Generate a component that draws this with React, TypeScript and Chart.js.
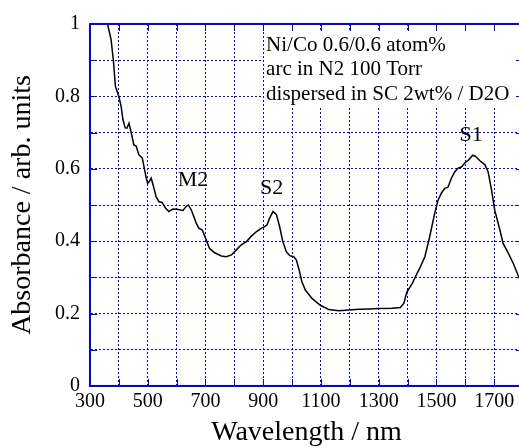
import React, { useEffect, useRef } from "react";
import { Chart, registerables } from "chart.js";

Chart.register(...registerables);

const wavelengths = [
  358, 373, 381, 388, 400, 408, 414, 422, 428, 435, 443, 452, 460, 469, 481, 487, 495, 500, 506, 512,
  520, 529, 539, 550, 562, 573, 587, 601, 622, 633, 641, 651, 668, 677, 689, 703, 714, 732, 755, 772,
  790, 807, 824, 842, 859, 876, 894, 905, 913, 922, 934, 946, 957, 968, 980, 992, 1006, 1015, 1024, 1034,
  1046, 1069, 1098, 1127, 1162, 1196, 1231, 1266, 1300, 1346, 1375, 1387, 1398, 1416, 1433, 1442, 1460, 1477, 1494, 1506,
  1518, 1529, 1540, 1552, 1564, 1575, 1587, 1598, 1610, 1625, 1633, 1650, 1668, 1679, 1691, 1702, 1720, 1731, 1749, 1766,
  1783, 1800,
];
const absorbance = [
  1.01, 0.957, 0.9, 0.828, 0.8, 0.772, 0.736, 0.713, 0.712, 0.726, 0.699, 0.666, 0.663, 0.639, 0.63, 0.606, 0.574, 0.56, 0.566, 0.574,
  0.551, 0.523, 0.509, 0.507, 0.491, 0.482, 0.489, 0.488, 0.485, 0.496, 0.5, 0.486, 0.45, 0.436, 0.431, 0.403, 0.38, 0.368, 0.359, 0.357,
  0.362, 0.376, 0.39, 0.399, 0.414, 0.426, 0.436, 0.44, 0.445, 0.463, 0.482, 0.473, 0.44, 0.399, 0.371, 0.36, 0.357, 0.348, 0.322, 0.288,
  0.265, 0.242, 0.223, 0.211, 0.208, 0.21, 0.212, 0.213, 0.214, 0.215, 0.217, 0.228, 0.26, 0.283, 0.311, 0.325, 0.357, 0.413, 0.477, 0.514,
  0.534, 0.546, 0.549, 0.574, 0.592, 0.602, 0.605, 0.616, 0.623, 0.637, 0.636, 0.623, 0.611, 0.592, 0.542, 0.486, 0.431, 0.394, 0.367, 0.339,
  0.306, 0.275,
];

const xTickLabels = [300, 500, 700, 900, 1100, 1300, 1500, 1700];
const yTickLabels = ["0", "0.2", "0.4", "0.6", "0.8", "1"];

const peakNames = ["M2", "S2", "S1"];
const peakNameX = [657, 929, 1620];
const peakNameY = [0.569, 0.546, 0.693];

const noteLines = ["Ni/Co 0.6/0.6 atom%", "arc in N2 100 Torr", "dispersed in SC 2wt% / D2O"];
const noteLineY = [0.942, 0.873, 0.804];
const noteX = 910;
const noteBox = { x0: 903, x1: 1779, y0: 0.981, y1: 0.768 };

const FONT = "'Times New Roman', 'Liberation Serif', 'DejaVu Serif', serif";
const BLUE = "rgb(0,0,255)";

const annotationPlugin = {
  id: "annotations",
  beforeDatasetsDraw(chart: any) {
    const { ctx } = chart;
    const xs = chart.scales.x;
    const ys = chart.scales.y;
    ctx.save();
    ctx.fillStyle = "#ffffff";
    const bx0 = xs.getPixelForValue(noteBox.x0);
    const bx1 = xs.getPixelForValue(noteBox.x1);
    const by0 = ys.getPixelForValue(noteBox.y0);
    const by1 = ys.getPixelForValue(noteBox.y1);
    ctx.fillRect(bx0, by0, bx1 - bx0, by1 - by0);
    ctx.fillStyle = "#000";
    ctx.font = `21px ${FONT}`;
    ctx.textAlign = "left";
    ctx.textBaseline = "middle";
    noteLines.forEach((t, i) => {
      ctx.fillText(t, xs.getPixelForValue(noteX), ys.getPixelForValue(noteLineY[i]));
    });
    ctx.font = `22px ${FONT}`;
    ctx.textAlign = "center";
    peakNames.forEach((t, i) => {
      ctx.fillText(t, xs.getPixelForValue(peakNameX[i]), ys.getPixelForValue(peakNameY[i]));
    });
    ctx.restore();
  },
  afterDraw(chart: any) {
    const { ctx, chartArea } = chart;
    const xs = chart.scales.x;
    const ys = chart.scales.y;
    const { left, right, top, bottom } = chartArea;
    ctx.save();
    ctx.strokeStyle = BLUE;
    ctx.lineWidth = 1;
    ctx.beginPath();
    const tl = 7;
    for (let v = 300; v <= 1800; v += 100) {
      const px = Math.round(xs.getPixelForValue(v)) + 0.5;
      ctx.moveTo(px, top);
      ctx.lineTo(px, top + tl);
      ctx.moveTo(px, bottom);
      ctx.lineTo(px, bottom - tl);
    }
    for (let i = 0; i <= 10; i++) {
      const py = Math.round(ys.getPixelForValue(i / 10)) + 0.5;
      ctx.moveTo(left, py);
      ctx.lineTo(left + tl, py);
      ctx.moveTo(right, py);
      ctx.lineTo(right - tl, py);
    }
    ctx.stroke();
    ctx.lineWidth = 2;
    ctx.strokeRect(left, top, right - left, bottom - top);
    ctx.restore();
  },
};

export default function App() {
  const canvasRef = useRef<HTMLCanvasElement | null>(null);

  useEffect(() => {
    if (!canvasRef.current) return;
    const points = wavelengths.map((w, i) => ({ x: w, y: absorbance[i] }));
    const chart = new Chart(canvasRef.current, {
      type: "line",
      data: {
        datasets: [
          {
            data: points,
            borderColor: "#000",
            borderWidth: 1.5,
            pointRadius: 0,
            tension: 0,
            fill: false,
          },
        ],
      },
      options: {
        animation: false,
        responsive: false,
        events: [],
        layout: { padding: { top: 24, right: 7, left: 0, bottom: 0 } },
        plugins: { legend: { display: false }, tooltip: { enabled: false } },
        scales: {
          x: {
            type: "linear",
            min: 300,
            max: 1800,
            afterFit: (s: any) => {
              s.height = 61;
            },
            grid: { color: BLUE, lineWidth: 1, drawTicks: false },
            border: { display: true, color: BLUE, width: 2, dash: [2, 2] },
            ticks: {
              stepSize: 100,
              autoSkip: false,
              maxRotation: 0,
              padding: 4,
              color: "#000",
              font: { family: FONT, size: 20 },
              callback: (v: any) => (xTickLabels.includes(Math.round(v)) ? String(Math.round(v)) : ""),
            },
            title: {
              display: true,
              text: "Wavelength / nm",
              color: "#000",
              font: { family: FONT, size: 28, lineHeight: 1 },
              padding: { top: 0, bottom: 0 },
            },
          },
          y: {
            type: "linear",
            min: 0,
            max: 1,
            afterFit: (s: any) => {
              s.width = 90;
            },
            grid: { color: BLUE, lineWidth: 1, drawTicks: false },
            border: { display: true, color: BLUE, width: 2, dash: [2, 2] },
            ticks: {
              stepSize: 0.1,
              padding: 10,
              color: "#000",
              font: { family: FONT, size: 20 },
              callback: (v: any) => {
                const s = String(Math.round(v * 10) / 10);
                return yTickLabels.includes(s) ? s : "";
              },
            },
            title: {
              display: true,
              text: "Absorbance / arb. units",
              color: "#000",
              font: { family: FONT, size: 28, lineHeight: 1 },
              padding: { top: 9, bottom: 0 },
            },
          },
        },
      },
      plugins: [annotationPlugin],
    } as any);
    return () => chart.destroy();
  }, []);

  return (
    <div style={{ position: "fixed", left: 0, top: 0, width: 530, height: 447, background: "#fff" }}>
      <canvas ref={canvasRef} width={530} height={447} style={{ display: "block" }} />
    </div>
  );
}
